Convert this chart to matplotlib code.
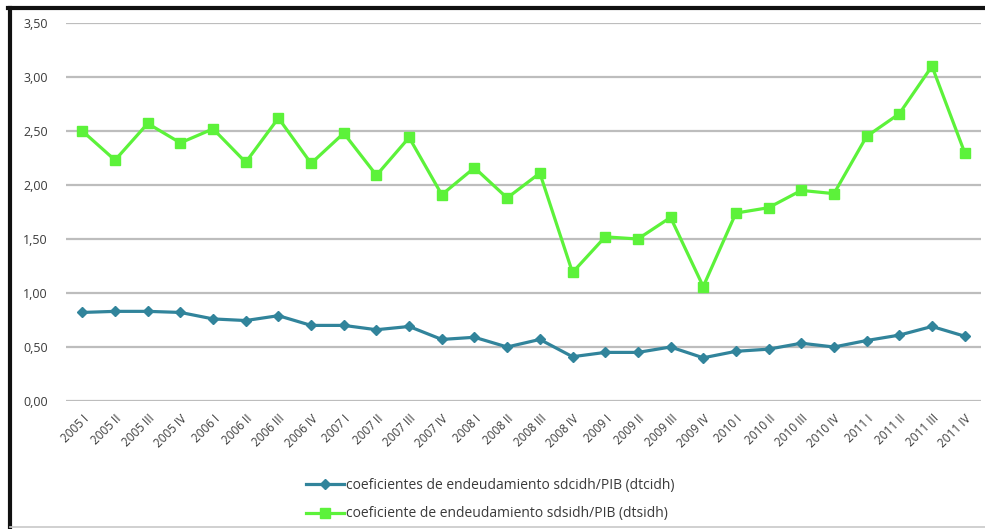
import matplotlib
matplotlib.use("Agg")
import matplotlib.pyplot as plt
from matplotlib.lines import Line2D

quarters = [
    "2005 I", "2005 II", "2005 III", "2005 IV",
    "2006 I", "2006 II", "2006 III", "2006 IV",
    "2007 I", "2007 II", "2007 III", "2007 IV",
    "2008 I", "2008 II", "2008 III", "2008 IV",
    "2009 I", "2009 II", "2009 III", "2009 IV",
    "2010 I", "2010 II", "2010 III", "2010 IV",
    "2011 I", "2011 II", "2011 III", "2011 IV",
]

dtcidh = [
    0.82, 0.83, 0.83, 0.82, 0.76, 0.745, 0.79, 0.70,
    0.70, 0.66, 0.69, 0.57, 0.59, 0.50, 0.57, 0.41,
    0.45, 0.45, 0.50, 0.40, 0.46, 0.48, 0.535, 0.50,
    0.56, 0.61, 0.69, 0.60,
]

dtsidh = [
    2.50, 2.23, 2.57, 2.39, 2.52, 2.21, 2.62, 2.20,
    2.48, 2.09, 2.44, 1.91, 2.16, 1.88, 2.11, 1.19,
    1.52, 1.50, 1.70, 1.06, 1.74, 1.79, 1.95, 1.92,
    2.45, 2.66, 3.10, 2.30,
]

yticks = [0.0, 0.5, 1.0, 1.5, 2.0, 2.5, 3.0, 3.5]
ytick_labels = ["0,00", "0,50", "1,00", "1,50", "2,00", "2,50", "3,00", "3,50"]

label_cidh = "coeficientes de endeudamiento sdcidh/PIB (dtcidh)"
label_sidh = "coeficiente de endeudamiento sdsidh/PIB (dtsidh)"

blue = "#31849B"
green = "#5CF23A"
text_color = "#3a3a3a"

plt.rcParams["font.family"] = ["Open Sans", "DejaVu Sans"]

W, H = 985, 529
fig = plt.figure(figsize=(W / 100, H / 100), dpi=100)

# outer frame: heavy black on top and left, light grey at the bottom
fig.add_artist(Line2D([8 / W, 1.0], [1 - 8 / H, 1 - 8 / H], transform=fig.transFigure,
                      color="#111111", lw=3.0))
fig.add_artist(Line2D([10 / W, 10 / W], [1 - 8 / H, 0.0], transform=fig.transFigure,
                      color="#111111", lw=3.0))
fig.add_artist(Line2D([10 / W, 1.0], [1.6 / H, 1.6 / H], transform=fig.transFigure,
                      color="#c8c8c8", lw=1.2))

left, right = 66 / W, 981 / W
top_px, bot_px = 23, 401
ax = fig.add_axes([left, 1 - bot_px / H, right - left, (bot_px - top_px) / H])

x = list(range(len(quarters)))
ax.plot(x, dtcidh, color=blue, lw=2.3, marker="D", markersize=5.5,
        label=label_cidh, zorder=3)
ax.plot(x, dtsidh, color=green, lw=2.3, marker="s", markersize=7,
        label=label_sidh, zorder=3)

ax.set_xlim(-0.5, len(quarters) - 0.5)
ax.set_ylim(0, 3.5)
ax.set_yticks(yticks)
ax.set_yticklabels(ytick_labels, fontsize=9, color=text_color)
ax.set_xticks(x)
ax.set_xticklabels(quarters, rotation=45, ha="right", va="top",
                   rotation_mode="anchor", fontsize=8.5, color=text_color)
ax.tick_params(axis="both", length=0)
ax.tick_params(axis="y", pad=13)
ax.tick_params(axis="x", pad=8)
ax.grid(axis="y", color="#bdbdbd", lw=1.6)
ax.set_axisbelow(True)
for s in ax.spines.values():
    s.set_visible(False)

ax.legend(loc="upper left", bbox_to_anchor=(300 / W, 1 - 472 / H),
          bbox_transform=fig.transFigure, frameon=False, fontsize=10,
          handlelength=2.8, handletextpad=0.1, labelspacing=1.0,
          labelcolor=text_color, borderaxespad=0)

fig.savefig("out.png", dpi=100)
